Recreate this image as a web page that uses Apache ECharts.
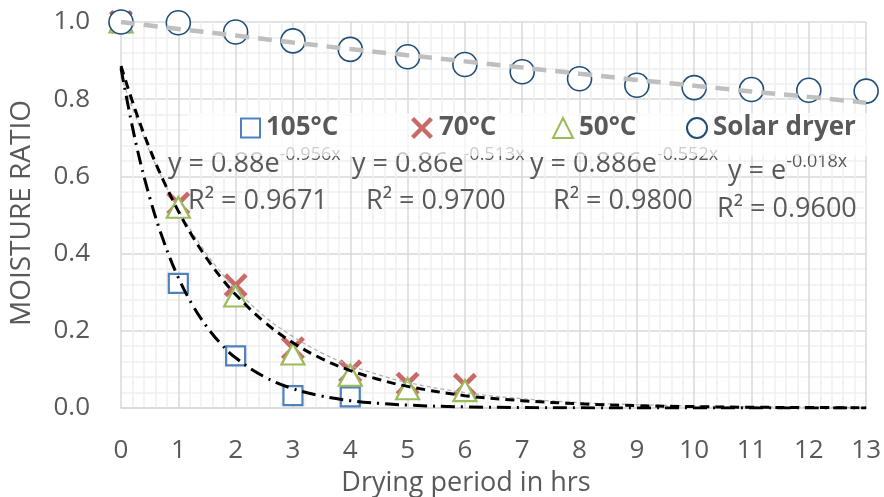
<!DOCTYPE html>
<html>
<head>
<meta charset="utf-8">
<title>Moisture ratio</title>
<script src="https://cdn.jsdelivr.net/npm/echarts@6/dist/echarts.min.js"></script>
<style>
    html, body { margin: 0; padding: 0; background: #fff; }
    #main { width: 884px; height: 497px; }
</style>
</head>
<body>
<div id="main"></div>
<script>
// 实测数据 (x = 小时)
var hours105 = [0, 1, 2, 3, 4];
var mr105 = [1.0, 0.323, 0.135, 0.032, 0.029];
var hours70 = [0, 1, 2, 3, 4, 5, 6];
var mr70 = [1.0, 0.53, 0.318, 0.155, 0.095, 0.063, 0.06];
var hours50 = [0, 1, 2, 3, 4, 5, 6];
var mr50 = [1.0, 0.52, 0.29, 0.14, 0.085, 0.05, 0.045];
var hoursSolar = [0, 1, 2, 3, 4, 5, 6, 7, 8, 9, 10, 11, 12, 13];
var mrSolar = [1.0, 0.998, 0.974, 0.951, 0.929, 0.910, 0.890, 0.871, 0.853, 0.836, 0.830, 0.825, 0.823, 0.821];

// 趋势线
var trendX = [0, 0.25, 0.5, 0.75, 1, 1.25, 1.5, 1.75, 2, 2.5, 3, 3.5, 4, 4.5, 5, 6, 7, 8, 9, 10, 11, 12, 13];
var trend105 = [0.880, 0.693, 0.546, 0.430, 0.338, 0.266, 0.210, 0.165, 0.130, 0.081, 0.050, 0.031, 0.019, 0.012, 0.0074, 0.0029, 0.0011, 0.0004, 0.0002, 0.0001, 0, 0, 0];
var trend70 = [0.860, 0.757, 0.665, 0.585, 0.515, 0.453, 0.398, 0.350, 0.308, 0.238, 0.185, 0.143, 0.110, 0.086, 0.066, 0.040, 0.024, 0.014, 0.0085, 0.0051, 0.003, 0.0018, 0.0011];
var trend50 = [0.886, 0.772, 0.672, 0.586, 0.510, 0.444, 0.387, 0.337, 0.294, 0.223, 0.169, 0.128, 0.097, 0.074, 0.056, 0.032, 0.019, 0.011, 0.0062, 0.0036, 0.002, 0.0012, 0.0007];
var trendSolarX = [0, 1, 2, 3, 4, 5, 6, 7, 8, 9, 10, 11, 12, 13];
var trendSolar = [1.0, 0.982, 0.965, 0.947, 0.930, 0.914, 0.898, 0.882, 0.866, 0.850, 0.835, 0.820, 0.806, 0.791];

var seriesNames = ['105°C', '70°C', '50°C', 'Solar dryer'];
var eqMain = ['y = 0.88e', 'y = 0.86e', 'y = 0.886e', 'y = e'];
var eqExp = ['-0.956x', '-0.513x', '-0.552x', '-0.018x'];
var eqR2 = ['R² = 0.9671', 'R² = 0.9700', 'R² = 0.9800', 'R² = 0.9600'];

var FONT = '"Open Sans", "Noto Sans", sans-serif';
var TEXT_COLOR = '#595959';

function pairs(xs, ys) {
    var out = [];
    for (var i = 0; i < xs.length; i++) {
        out.push([xs[i], ys[i]]);
    }
    return out;
}

// X 形标记
var crossPath = 'path://M0,1.4L1.4,0L5,3.6L8.6,0L10,1.4L6.4,5L10,8.6L8.6,10L5,6.4L1.4,10L0,8.6L3.6,5Z';

var chart = echarts.init(document.getElementById('main'), null, { renderer: 'canvas' });

function legendAt(name, left, size) {
    return {
        data: [name],
        left: left,
        top: 115,
        padding: 0,
        itemWidth: size,
        itemHeight: size,
        itemGap: 6,
        z: 20,
        selectedMode: false,
        textStyle: {
            fontFamily: FONT,
            fontSize: 26,
            fontWeight: 'bold',
            color: TEXT_COLOR,
            padding: [0, 0, 0, 1]
        }
    };
}

// 公式文字
var eqPos = [[168, 164, 188, 201], [352, 164, 366, 201], [530, 164, 553, 201], [728, 171, 717, 209]];
var graphics = [];
for (var i = 0; i < eqMain.length; i++) {
    graphics.push({
        type: 'text',
        x: eqPos[i][0],
        y: eqPos[i][1],
        z: 10,
        style: {
            text: '{m|' + eqMain[i] + '}{s|' + eqExp[i] + '}',
            textVerticalAlign: 'middle',
            fill: TEXT_COLOR,
            rich: {
                m: { fontFamily: FONT, fontSize: 27, fill: TEXT_COLOR, color: TEXT_COLOR },
                s: { fontFamily: FONT, fontSize: 18, fill: TEXT_COLOR, color: TEXT_COLOR, padding: [0, 0, 18, 0] }
            }
        }
    });
    graphics.push({
        type: 'text',
        x: eqPos[i][2],
        y: eqPos[i][3],
        z: 10,
        style: {
            text: eqR2[i],
            font: '27px ' + FONT,
            fill: TEXT_COLOR,
            textVerticalAlign: 'middle'
        }
    });
}
// 图例底色
graphics.push({
    type: 'rect',
    z: 15,
    shape: { x: 188, y: 113, width: 684, height: 43 },
    style: { fill: 'rgba(255,255,255,0.7)' }
});
graphics.push({
    type: 'text',
    x: 22,
    y: 213,
    rotation: Math.PI / 2,
    z: 10,
    style: {
        text: 'MOISTURE RATIO',
        font: '28px ' + FONT,
        fill: TEXT_COLOR,
        textAlign: 'center',
        textVerticalAlign: 'middle'
    }
});
graphics.push({
    type: 'text',
    x: 466,
    y: 483,
    z: 10,
    style: {
        text: 'Drying period in hrs',
        font: '27px ' + FONT,
        fill: TEXT_COLOR,
        textAlign: 'center',
        textVerticalAlign: 'middle'
    }
});

var option = {
    animation: false,
    backgroundColor: '#fff',
    grid: { left: 121, right: 5, top: 22, bottom: 89 },
    legend: [
        legendAt(seriesNames[0], 240, 19),
        legendAt(seriesNames[1], 411, 22),
        legendAt(seriesNames[2], 552, 20),
        legendAt(seriesNames[3], 686, 20)
    ],
    xAxis: {
        type: 'value',
        min: 0,
        max: 13,
        interval: 1,
        axisLine: { show: true, lineStyle: { color: '#d9d9d9', width: 1.5 } },
        axisTick: { show: false },
        axisLabel: { fontFamily: FONT, fontSize: 26, color: TEXT_COLOR, margin: 30 },
        splitLine: { show: true, lineStyle: { color: '#d9d9d9', width: 1.5 } },
        minorTick: { show: false, splitNumber: 5 },
        minorSplitLine: { show: true, lineStyle: { color: '#f0f0f0', width: 1.5 } }
    },
    yAxis: {
        type: 'value',
        min: 0,
        max: 1,
        interval: 0.2,
        axisLine: { show: false },
        axisTick: { show: false },
        axisLabel: {
            fontFamily: FONT,
            fontSize: 26,
            color: TEXT_COLOR,
            margin: 31,
            formatter: function (v) { return v.toFixed(1); }
        },
        splitLine: { show: true, lineStyle: { color: '#d9d9d9', width: 1.5 } },
        minorTick: { show: false, splitNumber: 5 },
        minorSplitLine: { show: true, lineStyle: { color: '#f0f0f0', width: 1.5 } }
    },
    graphic: graphics,
    series: [
        {
            name: seriesNames[0],
            type: 'scatter',
            symbol: 'rect',
            symbolSize: 19,
            clip: false,
            itemStyle: { color: '#fff', borderColor: '#4f81bd', borderWidth: 2.2, opacity: 1 },
            data: pairs(hours105, mr105)
        },
        {
            name: seriesNames[1],
            type: 'scatter',
            symbol: crossPath,
            symbolSize: 24,
            clip: false,
            itemStyle: { color: '#c0504d', opacity: 0.85 },
            data: pairs(hours70, mr70)
        },
        {
            name: seriesNames[2],
            type: 'scatter',
            symbol: 'triangle',
            symbolSize: [23, 21],
            clip: false,
            itemStyle: { color: '#fff', borderColor: '#9bbb59', borderWidth: 2.2, opacity: 1 },
            data: pairs(hours50, mr50)
        },
        {
            name: seriesNames[3],
            type: 'scatter',
            symbol: 'circle',
            symbolSize: 24,
            clip: false,
            itemStyle: { color: '#fff', borderColor: '#1f4e79', borderWidth: 1.6, opacity: 1 },
            data: pairs(hoursSolar, mrSolar)
        },
        {
            name: 'trend solar',
            type: 'line',
            z: 5,
            smooth: true,
            showSymbol: false,
            silent: true,
            lineStyle: { color: '#bfbfbf', width: 4.5, type: [14, 9] },
            data: pairs(trendSolarX, trendSolar)
        },
        {
            name: 'trend 70',
            type: 'line',
            z: 5,
            smooth: 0.4,
            showSymbol: false,
            silent: true,
            lineStyle: { color: '#b3b3b3', width: 1.3, type: [4, 3] },
            data: pairs(trendX, trend70)
        },
        {
            name: 'trend 50',
            type: 'line',
            z: 5,
            smooth: 0.4,
            showSymbol: false,
            silent: true,
            lineStyle: { color: '#000', width: 3, type: [9, 6] },
            data: pairs(trendX, trend50)
        },
        {
            name: 'trend 105',
            type: 'line',
            z: 5,
            smooth: 0.4,
            showSymbol: false,
            silent: true,
            lineStyle: { color: '#000', width: 3, type: [14, 6, 2, 6] },
            data: pairs(trendX, trend105)
        }
    ]
};

chart.setOption(option);
</script>
</body>
</html>
